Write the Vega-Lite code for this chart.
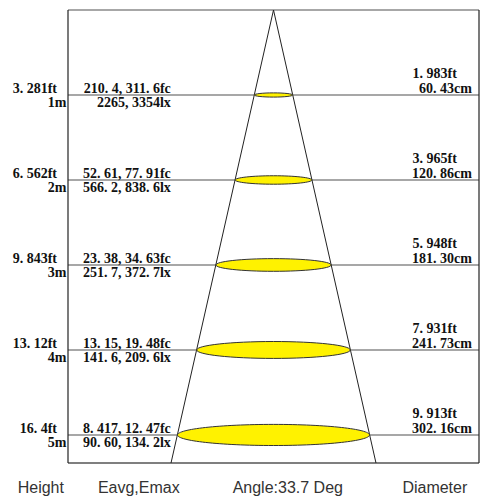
{
  "$schema": "https://vega.github.io/schema/vega-lite/v6.json",
  "width": 411,
  "height": 453,
  "autosize": {"type": "none"},
  "padding": {"left": 68, "top": 10, "right": 3, "bottom": 35},
  "background": "white",
  "config": {
    "view": {"stroke": null},
    "text": {"font": "Liberation Serif", "fontSize": 14, "fontWeight": "bold", "color": "#111111"}
  },
  "datasets": {
    "levels": [
      {"height_m": 1, "height_ft": "3. 281ft", "height_lbl": "1m", "fc": "210. 4, 311. 6fc", "lx": "2265, 3354lx", "diam_ft": "1. 983ft", "diam_cm_lbl": "60. 43cm", "diameter_cm": 60.43},
      {"height_m": 2, "height_ft": "6. 562ft", "height_lbl": "2m", "fc": "52. 61, 77. 91fc", "lx": "566. 2, 838. 6lx", "diam_ft": "3. 965ft", "diam_cm_lbl": "120. 86cm", "diameter_cm": 120.86},
      {"height_m": 3, "height_ft": "9. 843ft", "height_lbl": "3m", "fc": "23. 38, 34. 63fc", "lx": "251. 7, 372. 7lx", "diam_ft": "5. 948ft", "diam_cm_lbl": "181. 30cm", "diameter_cm": 181.30},
      {"height_m": 4, "height_ft": "13. 12ft", "height_lbl": "4m", "fc": "13. 15, 19. 48fc", "lx": "141. 6, 209. 6lx", "diam_ft": "7. 931ft", "diam_cm_lbl": "241. 73cm", "diameter_cm": 241.73},
      {"height_m": 5, "height_ft": "16. 4ft", "height_lbl": "5m", "fc": "8. 417, 12. 47fc", "lx": "90. 60, 134. 2lx", "diam_ft": "9. 913ft", "diam_cm_lbl": "302. 16cm", "diameter_cm": 302.16}
    ],
    "cone": [
      {"order": 0, "offset_cm": -161.3, "height_m": 5.33},
      {"order": 1, "offset_cm": 0, "height_m": 0},
      {"order": 2, "offset_cm": 161.3, "height_m": 5.33}
    ]
  },
  "layer": [
    {
      "data": {"name": "levels"},
      "mark": {"type": "rule", "color": "#8a8a8a", "strokeWidth": 1.6},
      "encoding": {
        "y": {"field": "height_m", "type": "quantitative", "scale": {"domain": [0, 5.33], "reverse": true, "zero": false, "nice": false}, "axis": null}
      }
    },
    {
      "data": {"values": [{}]},
      "mark": {"type": "rule", "color": "#8a8a8a", "strokeWidth": 1.6},
      "encoding": {"y": {"datum": 0, "type": "quantitative"}}
    },
    {
      "data": {"values": [{}]},
      "mark": {"type": "rule", "color": "#555555", "strokeWidth": 1.4},
      "encoding": {"y": {"datum": 5.33, "type": "quantitative"}}
    },
    {
      "data": {"values": [{}]},
      "mark": {"type": "rule", "color": "#222222", "strokeWidth": 1.2},
      "encoding": {"x": {"datum": -323.4, "type": "quantitative", "scale": {"domain": [-323.4, 323.4], "zero": false, "nice": false}, "axis": null}}
    },
    {
      "data": {"values": [{}]},
      "mark": {"type": "rule", "color": "#222222", "strokeWidth": 1.2},
      "encoding": {"x": {"datum": 323.4, "type": "quantitative"}}
    },
    {
      "data": {"name": "cone"},
      "mark": {"type": "line", "color": "#222222", "strokeWidth": 1},
      "encoding": {
        "x": {"field": "offset_cm", "type": "quantitative"},
        "y": {"field": "height_m", "type": "quantitative"},
        "order": {"field": "order", "type": "quantitative"}
      }
    },
    {
      "data": {"name": "levels"},
      "mark": {
        "type": "point",
        "shape": "M-1,0C-1,-0.061,-0.552,-0.11,0,-0.11C0.552,-0.11,1,-0.061,1,0C1,0.061,0.552,0.11,0,0.11C-0.552,0.11,-1,0.061,-1,0Z",
        "filled": true,
        "fill": "#FFF200",
        "stroke": "#333333",
        "strokeWidth": 1,
        "opacity": 1,
        "fillOpacity": 1
      },
      "encoding": {
        "x": {"datum": 0, "type": "quantitative"},
        "y": {"field": "height_m", "type": "quantitative"},
        "size": {"field": "diameter_cm", "type": "quantitative", "scale": {"type": "pow", "exponent": 2, "domain": [0, 302.16], "range": [0, 36864]}, "legend": null}
      }
    },
    {
      "data": {"name": "levels"},
      "mark": {"type": "text", "align": "right", "baseline": "alphabetic", "dx": -11, "dy": -2},
      "encoding": {
        "x": {"datum": -323.4, "type": "quantitative"},
        "y": {"field": "height_m", "type": "quantitative"},
        "text": {"field": "height_ft"}
      }
    },
    {
      "data": {"name": "levels"},
      "mark": {"type": "text", "align": "right", "baseline": "alphabetic", "dx": -1.5, "dy": 12},
      "encoding": {
        "x": {"datum": -323.4, "type": "quantitative"},
        "y": {"field": "height_m", "type": "quantitative"},
        "text": {"field": "height_lbl"}
      }
    },
    {
      "data": {"name": "levels"},
      "mark": {"type": "text", "align": "right", "baseline": "alphabetic", "dy": -2},
      "encoding": {
        "x": {"datum": -161.6, "type": "quantitative"},
        "y": {"field": "height_m", "type": "quantitative"},
        "text": {"field": "fc"}
      }
    },
    {
      "data": {"name": "levels"},
      "mark": {"type": "text", "align": "right", "baseline": "alphabetic", "dy": 12},
      "encoding": {
        "x": {"datum": -161.6, "type": "quantitative"},
        "y": {"field": "height_m", "type": "quantitative"},
        "text": {"field": "lx"}
      }
    },
    {
      "data": {"name": "levels"},
      "mark": {"type": "text", "align": "right", "baseline": "alphabetic", "dy": -17},
      "encoding": {
        "x": {"datum": 288.5, "type": "quantitative"},
        "y": {"field": "height_m", "type": "quantitative"},
        "text": {"field": "diam_ft"}
      }
    },
    {
      "data": {"name": "levels"},
      "mark": {"type": "text", "align": "right", "baseline": "alphabetic", "dy": -2},
      "encoding": {
        "x": {"datum": 312.1, "type": "quantitative"},
        "y": {"field": "height_m", "type": "quantitative"},
        "text": {"field": "diam_cm_lbl"}
      }
    },
    {
      "data": {"values": [{}]},
      "mark": {"type": "text", "align": "center", "baseline": "alphabetic", "dy": 30, "font": "Liberation Sans", "fontSize": 16, "fontWeight": "normal", "color": "#333333", "text": "Height"},
      "encoding": {"x": {"datum": -366.2, "type": "quantitative"}, "y": {"datum": 5.33, "type": "quantitative"}}
    },
    {
      "data": {"values": [{}]},
      "mark": {"type": "text", "align": "center", "baseline": "alphabetic", "dy": 30, "font": "Liberation Sans", "fontSize": 16, "fontWeight": "normal", "color": "#333333", "text": "Eavg,Emax"},
      "encoding": {"x": {"datum": -212, "type": "quantitative"}, "y": {"datum": 5.33, "type": "quantitative"}}
    },
    {
      "data": {"values": [{}]},
      "mark": {"type": "text", "align": "center", "baseline": "alphabetic", "dy": 30, "font": "Liberation Sans", "fontSize": 16, "fontWeight": "normal", "color": "#333333", "text": "Angle:33.7 Deg"},
      "encoding": {"x": {"datum": 22.5, "type": "quantitative"}, "y": {"datum": 5.33, "type": "quantitative"}}
    },
    {
      "data": {"values": [{}]},
      "mark": {"type": "text", "align": "center", "baseline": "alphabetic", "dy": 30, "font": "Liberation Sans", "fontSize": 16, "fontWeight": "normal", "color": "#333333", "text": "Diameter"},
      "encoding": {"x": {"datum": 253.9, "type": "quantitative"}, "y": {"datum": 5.33, "type": "quantitative"}}
    }
  ]
}
